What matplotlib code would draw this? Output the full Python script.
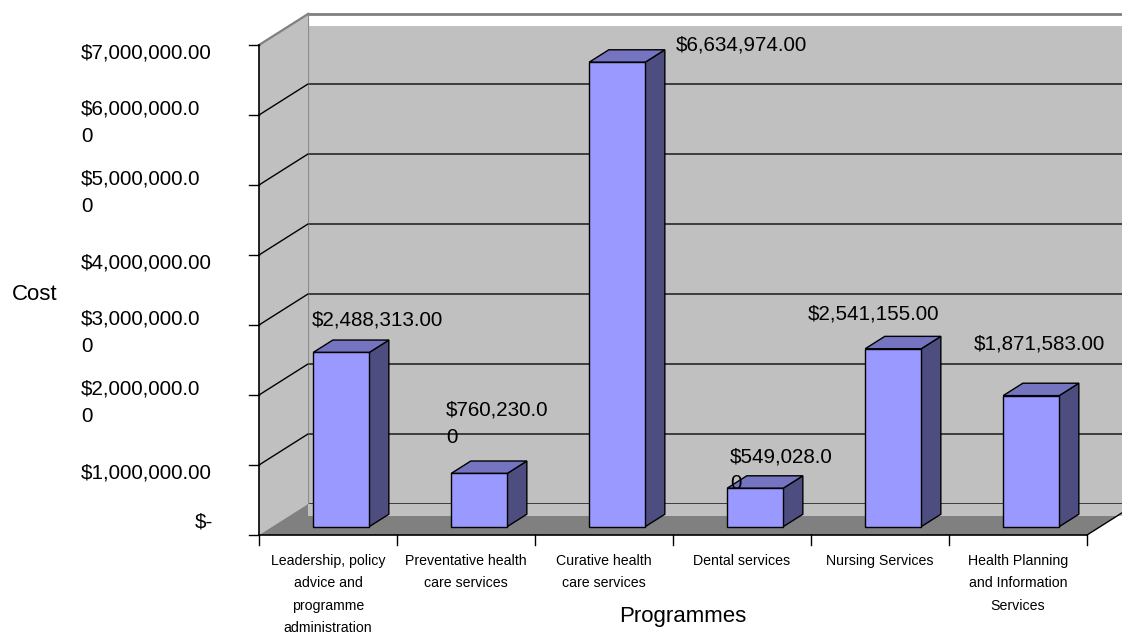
import matplotlib
matplotlib.use("Agg")
import matplotlib.pyplot as plt
from matplotlib.patches import Polygon
from matplotlib import font_manager


# -----------------------------
# Data
# -----------------------------
programmes = [
    "Leadership, policy\nadvice and\nprogramme\nadministration",
    "Preventative health\ncare services",
    "Curative health\ncare services",
    "Dental services",
    "Nursing Services",
    "Health Planning\nand Information\nServices",
]
costs = [2488313.00, 760230.00, 6634974.00, 549028.00, 2541155.00, 1871583.00]
wrap_cost_label = [False, True, False, True, False, False]

cost_ticks = [0, 1e6, 2e6, 3e6, 4e6, 5e6, 6e6, 7e6]
cost_tick_labels = [
    "$-",
    "$1,000,000.00",
    "$2,000,000.0\n0",
    "$3,000,000.0\n0",
    "$4,000,000.00",
    "$5,000,000.0\n0",
    "$6,000,000.0\n0",
    "$7,000,000.00",
]

# -----------------------------
# Layout (pixels)
# -----------------------------
W_PX, H_PX = 1122, 632
ORIGIN_X, ORIGIN_Y = 259, 535      # front corner of the floor, from top-left
CAT_PX = 138.0                      # width of one category on the front edge
MIL_PX = 70.0                       # height of $1M on the front plane
DEPTH_PX = (49.0, 31.0)             # oblique offset of the back wall
BAR_D0, BAR_D1 = 0.27, 0.67         # bar front/back as a fraction of depth
BAR_WIDTH = 0.406                   # in category units
WALL_SHIFT_PX = 12                  # back-wall fill sits a little below its grid

# data-label offsets from the top-front centre of each bar (px, up positive);
# single-line labels are placed by baseline, wrapped ones by their top edge
label_offsets = [(36, 27), (-33, 73), (124, 12), (-25, 41), (-20, 29), (8, 46)]
label_ha = ["center", "left", "center", "left", "center", "center"]

VALUE_SIZE = 14.9
CAT_SIZE = 10.2
TITLE_SIZE = 16.0

WALL = "#C0C0C0"
FLOOR = "#808080"
BAR_FRONT = "#9999FF"
BAR_TOP = "#7474C0"
BAR_SIDE = "#4D4D80"

names = {f.name for f in font_manager.fontManager.ttflist}
FONT = "Liberation Sans Narrow" if "Liberation Sans Narrow" in names else "Liberation Sans"
plt.rcParams["font.family"] = [FONT, "DejaVu Sans"]

# unit conversions between data and pixels
px_x = 1.0 / CAT_PX
px_y = 1e6 / MIL_PX
DX = DEPTH_PX[0] * px_x
DY = DEPTH_PX[1] * px_y
n = len(costs)


def proj(x, v, d):
    return (x + d * DX, v + d * DY)


def poly(ax, pts, fc, ec="none", lw=0.0, z=1):
    ax.add_patch(Polygon(pts, closed=True, facecolor=fc, edgecolor=ec,
                         linewidth=lw, zorder=z, joinstyle="miter"))


fig = plt.figure(figsize=(W_PX / 100, H_PX / 100), dpi=100)
ax = fig.add_axes([0, 0, 1, 1])
ax.set_xlim(-ORIGIN_X * px_x, (W_PX - ORIGIN_X) * px_x)
ax.set_ylim(-(H_PX - ORIGIN_Y) * px_y, ORIGIN_Y * px_y)
ax.axis("off")

top = cost_ticks[-1]
far = n + 2  # back wall runs off the right edge
shift = WALL_SHIFT_PX * px_y

# back wall
poly(ax, [proj(0, -shift, 1), proj(far, -shift, 1),
          proj(far, top - shift, 1), proj(0, top - shift, 1)], WALL, z=1)
for v in cost_ticks[:-1]:
    xs, ys = zip(proj(0, v, 1), proj(far, v, 1))
    ax.plot(xs, ys, color="#3C3C3C", lw=1.4, zorder=2)
xs, ys = zip(proj(0, top, 1), proj(far, top, 1))
ax.plot(xs, ys, color="#808080", lw=2.0, zorder=2)
xs, ys = zip(proj(0, 0, 1), proj(0, top, 1))
ax.plot(xs, ys, color="#8C8C8C", lw=1.6, zorder=2)

# side wall
poly(ax, [proj(0, 0, 0), proj(0, 0, 1), proj(0, top, 1), proj(0, top, 0)], WALL, z=3)
for v in cost_ticks[1:-1]:
    xs, ys = zip(proj(0, v, 0), proj(0, v, 1))
    ax.plot(xs, ys, color="black", lw=1.0, zorder=4)
xs, ys = zip(proj(0, top, 0), proj(0, top, 1))
ax.plot(xs, ys, color="#808080", lw=1.6, zorder=4)

# floor, with the strip of back wall that shows along its rear edge
poly(ax, [proj(0, 0, 0), proj(n, 0, 0), proj(n, 0, 1), proj(0, 0, 1)], FLOOR, z=3)
d_strip = 1 - WALL_SHIFT_PX / DEPTH_PX[1]
x_left = DX
poly(ax, [(x_left, proj(0, 0, d_strip)[1]), proj(n, 0, d_strip),
          proj(n, 0, 1), (x_left, proj(0, 0, 1)[1])], WALL, z=3)

# bars
for i, v in enumerate(costs):
    x0 = i + 0.5 - BAR_WIDTH / 2
    x1 = i + 0.5 + BAR_WIDTH / 2
    front = [proj(x0, 0, BAR_D0), proj(x1, 0, BAR_D0),
             proj(x1, v, BAR_D0), proj(x0, v, BAR_D0)]
    side = [proj(x1, 0, BAR_D0), proj(x1, 0, BAR_D1),
            proj(x1, v, BAR_D1), proj(x1, v, BAR_D0)]
    lid = [proj(x0, v, BAR_D0), proj(x1, v, BAR_D0),
           proj(x1, v, BAR_D1), proj(x0, v, BAR_D1)]
    poly(ax, side, BAR_SIDE, "black", 1.0, z=5)
    poly(ax, lid, BAR_TOP, "black", 1.0, z=5)
    poly(ax, front, BAR_FRONT, "black", 1.0, z=6)

    text = f"${v:,.2f}"
    va = "baseline"
    if wrap_cost_label[i]:
        text = text[:-1] + "\n" + text[-1]
        va = "top"
    ax.annotate(text, xy=proj(i + 0.5, v, BAR_D0), xytext=label_offsets[i],
                textcoords="offset pixels", ha=label_ha[i], va=va,
                fontsize=VALUE_SIZE, linespacing=1.55, zorder=8,
                multialignment="left")

# axes lines and ticks
ax.plot([0, 0], [0, top], color="black", lw=1.2, zorder=7)
ax.plot([0, n], [0, 0], color="black", lw=1.2, zorder=7)
xs, ys = zip(proj(n, 0, 0), proj(n, 0, 1))
ax.plot(xs, ys, color="black", lw=1.0, zorder=7)
for v in cost_ticks:
    ax.plot([-10 * px_x, 0], [v, v], color="black", lw=1.0, zorder=7)
for i in range(n + 1):
    ax.plot([i, i], [0, -10 * px_y], color="black", lw=1.0, zorder=7)

for v, lab in zip(cost_ticks, cost_tick_labels):
    if v == 0:
        # "$-" sits right-aligned just above the baseline tick
        ax.annotate(lab, xy=(0, v), xytext=(-46, 13), textcoords="offset pixels",
                    ha="right", va="center", fontsize=VALUE_SIZE)
    else:
        ax.annotate(lab, xy=(0, v), xytext=(-178, -8), textcoords="offset pixels",
                    ha="left", va="center", fontsize=VALUE_SIZE, linespacing=1.58,
                    multialignment="left")

for i, lab in enumerate(programmes):
    ax.annotate(lab, xy=(i + 0.5, 0), xytext=(0, -19), textcoords="offset pixels",
                ha="center", va="top", fontsize=CAT_SIZE, linespacing=1.76)

ax.annotate("Programmes", xy=(3, 0), xytext=(10, -87), textcoords="offset pixels",
            ha="center", va="baseline", fontsize=TITLE_SIZE)
fig.text(34.5 / W_PX, 1 - 295 / H_PX, "Cost", ha="center", va="center",
         fontsize=TITLE_SIZE)

fig.savefig("out.png", dpi=100)
